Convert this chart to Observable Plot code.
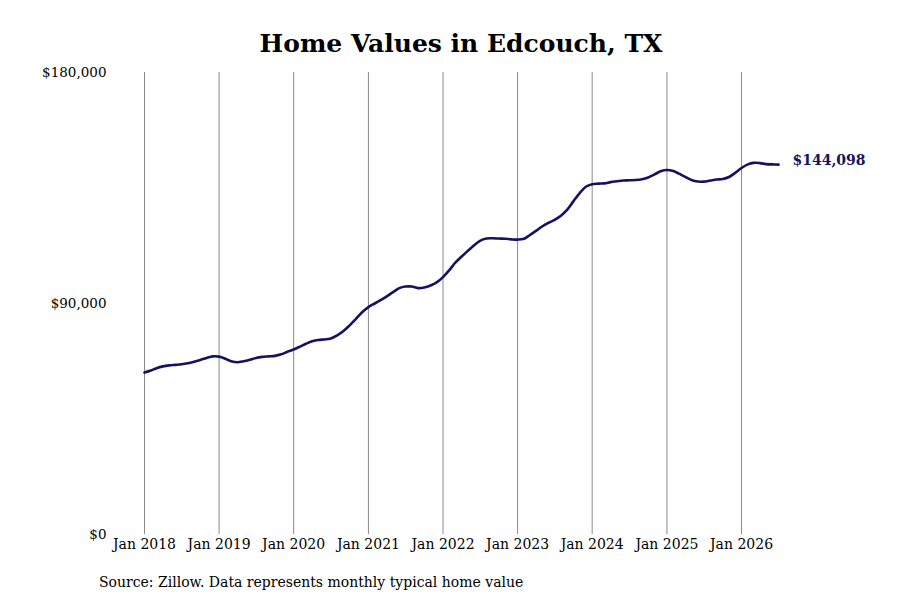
<!DOCTYPE html>
<html>
<head>
<meta charset="utf-8">
<script src="https://cdn.jsdelivr.net/npm/d3@7"></script>
<script src="https://cdn.jsdelivr.net/npm/@observablehq/plot@0.6"></script>
<style>
  html, body { margin: 0; padding: 0; background: #fff; }
  #wrap { position: relative; width: 900px; height: 600px; font-family: "DejaVu Serif", serif; }
  #title { position: absolute; left: 22px; width: 878px; top: 26px; text-align: center; font-weight: bold; font-size: 25px; color: #000; line-height: 36px; margin: 0; }
  #chart { position: absolute; left: 0; top: 60px; }
  #caption { position: absolute; left: 99px; top: 572px; font-size: 14px; color: #000; line-height: 20px; }
</style>
</head>
<body>
<div id="wrap">
  <div id="title">Home Values in Edcouch, TX</div>
  <div id="chart"></div>
  <div id="caption">Source: Zillow. Data represents monthly typical home value</div>
</div>
<script>
// Monthly typical home values, Jan 2018 – Jul 2026
const startYear = 2018;
const values = [
  63100, 63900, 64800, 65500, 65900, 66100, 66300, 66700, 67300, 68000, 68800, 69400,
  69300, 68500, 67500, 67100, 67500, 68100, 68800, 69200, 69400, 69600, 70200, 71200,
  72100, 73200, 74300, 75300, 75800, 76000, 76400, 77600, 79300, 81500, 84000, 86600,
  88600, 90000, 91300, 92800, 94400, 96000, 96600, 96600, 96000, 96200, 97000, 98200,
  100300, 103000, 105800, 108200, 110400, 112600, 114400, 115300, 115400, 115300, 115200, 115000,
  114900, 115200, 116600, 118300, 120000, 121400, 122600, 124200, 126600, 129800, 133000, 135500,
  136500, 136700, 136800, 137300, 137600, 137900, 138000, 138100, 138400, 139100, 140300, 141500,
  142000, 141600, 140600, 139300, 138100, 137500, 137500, 137900, 138300, 138500, 139300, 140900,
  142800, 144200, 144800, 144700, 144300, 144200, 144098
];
const yTicks = [0, 90000, 180000];
const xTickYears = [2018, 2019, 2020, 2021, 2022, 2023, 2024, 2025, 2026];
const lastLabel = "$144,098";

const data = values.map((v, i) => ({date: new Date(startYear, i, 1), value: v}));
const last = data[data.length - 1];
const fmtMoney = d => "$" + d3.format(",")(d);
const xTicks = xTickYears.map(y => new Date(y, 0, 1));

const chart = Plot.plot({
  width: 900,
  height: 500,
  marginLeft: 144,
  marginRight: 122,
  marginTop: 12,
  marginBottom: 26,
  style: {fontFamily: "DejaVu Serif, serif", fontSize: "13.5px", color: "#000", background: "#fff"},
  x: {type: "time", domain: [data[0].date, last.date], label: null},
  y: {domain: [0, 180000], label: null},
  marks: [
    Plot.gridX(xTicks, {stroke: "#8a8a8a", strokeOpacity: 1, strokeWidth: 1}),
    Plot.axisX({ticks: xTicks, tickFormat: d => "Jan " + d.getFullYear(), tickSize: 0, tickPadding: 5, fontSize: 14, label: null}),
    Plot.axisY({ticks: yTicks, tickFormat: fmtMoney, tickSize: 0, tickPadding: 38, fontSize: 13.5, label: null}),
    Plot.line(data, {x: "date", y: "value", stroke: "#14135f", strokeWidth: 2.6, curve: "catmull-rom"}),
    Plot.text([last], {x: "date", y: "value", text: () => lastLabel, dx: 14, dy: -4, textAnchor: "start", fill: "#14135f", fontWeight: "bold", fontSize: 14})
  ]
});
document.getElementById("chart").appendChild(chart);
</script>
</body>
</html>
